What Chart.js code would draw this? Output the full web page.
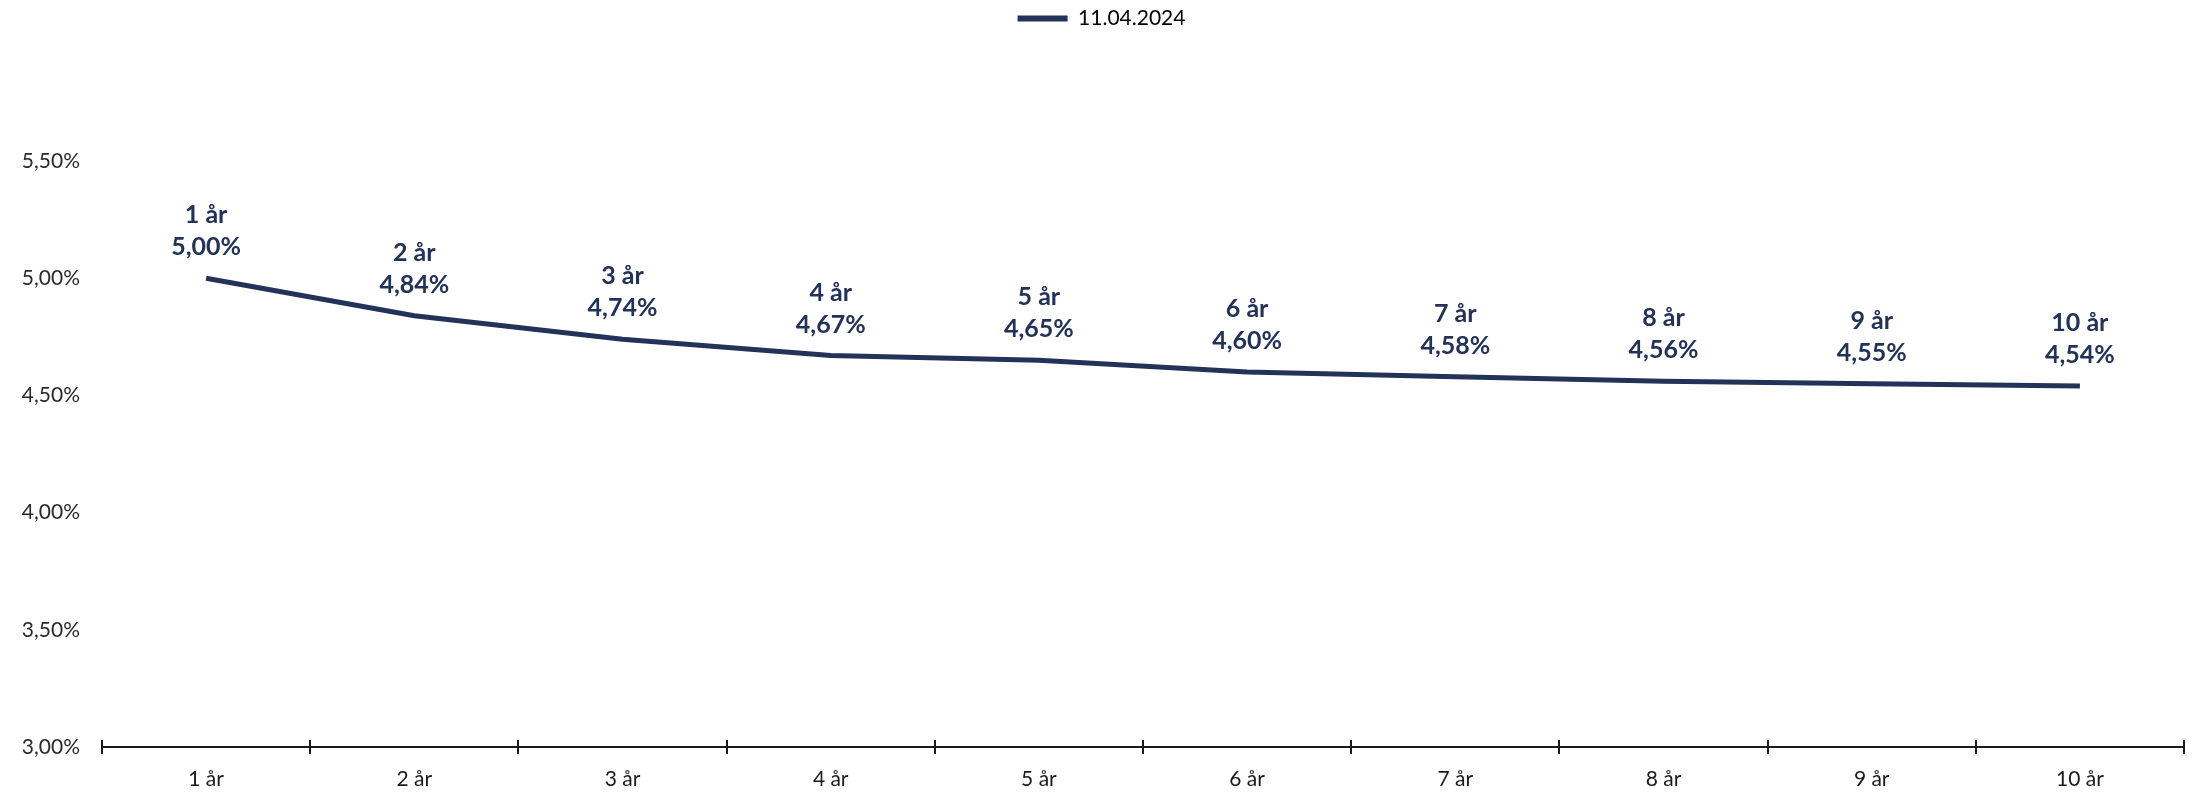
<!DOCTYPE html>
<html>
<head>
<meta charset="utf-8">
<script src="https://cdn.jsdelivr.net/npm/chart.js@4"></script>
<style>
  html, body { margin: 0; padding: 0; background: #fff; }
  #wrap { width: 2203px; height: 792px; position: relative; }
</style>
</head>
<body>
<div id="wrap"><canvas id="myChart"></canvas></div>
<script>
// data
const categories = ['1 år', '2 år', '3 år', '4 år', '5 år', '6 år', '7 år', '8 år', '9 år', '10 år'];
const seriesLabel = '11.04.2024';
const rates = [5.00, 4.84, 4.74, 4.67, 4.65, 4.60, 4.58, 4.56, 4.55, 4.54];
const yTicks = [3.0, 3.5, 4.0, 4.5, 5.0, 5.5];

const navy = '#233259';
const fontName = 'Lato';

function pct(v) {
    return v.toFixed(2).replace('.', ',') + '%';
}

// labels over each point: "1 år" / "5,00%"
const pointLabels = {
    id: 'pointLabels',
    afterDatasetsDraw(chart) {
        const ctx = chart.ctx;
        const meta = chart.getDatasetMeta(0);
        ctx.save();
        ctx.fillStyle = navy;
        ctx.textAlign = 'center';
        ctx.textBaseline = 'alphabetic';
        ctx.font = 'bold 25px ' + fontName;
        meta.data.forEach((pt, i) => {
            ctx.fillText(categories[i], pt.x, pt.y - 55);
            ctx.fillText(pct(rates[i]), pt.x, pt.y - 23);
        });
        ctx.restore();
    }
};

// tick marks crossing the x axis at category borders
const axisTicks = {
    id: 'axisTicks',
    afterDraw(chart) {
        const sc = chart.scales.x;
        const ctx = chart.ctx;
        const n = categories.length;
        const step = (sc.right - sc.left) / n;
        ctx.save();
        ctx.strokeStyle = '#1a1a1a';
        ctx.lineWidth = 2;
        for (let i = 0; i <= n; i++) {
            const x = Math.round(sc.left + i * step);
            ctx.beginPath();
            ctx.moveTo(x, sc.top - 7);
            ctx.lineTo(x, sc.top + 7);
            ctx.stroke();
        }
        ctx.restore();
    }
};

// extra room under the legend
const legendGap = {
    id: 'legendGap',
    beforeInit(chart) {
        const fit = chart.legend.fit;
        chart.legend.fit = function () {
            fit.bind(chart.legend)();
            this.height += 122;
        };
    }
};

const ctx = document.getElementById('myChart').getContext('2d');
const chart = new Chart(ctx, {
    type: 'line',
    data: {
        labels: categories,
        datasets: [{
            label: seriesLabel,
            data: rates,
            borderColor: navy,
            backgroundColor: navy,
            borderWidth: 5,
            pointRadius: 0,
            tension: 0,
            fill: false
        }]
    },
    options: {
        responsive: true,
        maintainAspectRatio: false,
        animation: false,
        layout: {
            padding: { top: 2, right: 19, left: 19, bottom: 0 }
        },
        plugins: {
            tooltip: { enabled: false },
            legend: {
                position: 'top',
                labels: {
                    color: '#1a1a1a',
                    font: { family: fontName, size: 21 },
                    boxWidth: 50,
                    boxHeight: 6,
                    padding: 6,
                    generateLabels(chart) {
                        return [{
                            text: seriesLabel,
                            fillStyle: navy,
                            strokeStyle: navy,
                            lineWidth: 0,
                            datasetIndex: 0
                        }];
                    }
                }
            }
        },
        scales: {
            x: {
                offset: true,
                afterFit(axis) {
                    axis.height = 45;
                },
                grid: { display: false, drawTicks: false },
                border: { display: true, color: '#1a1a1a', width: 2 },
                ticks: {
                    color: '#1a1a1a',
                    padding: 20,
                    font: { family: fontName, size: 21 }
                }
            },
            y: {
                min: 3.0,
                max: 5.5,
                afterBuildTicks(axis) {
                    axis.ticks = yTicks.map(v => ({ value: v }));
                },
                afterFit(axis) {
                    axis.width = 83;
                },
                grid: { display: false, drawTicks: false },
                border: { display: false },
                ticks: {
                    color: '#2a2a2a',
                    padding: 22,
                    font: { family: fontName, size: 21 },
                    callback: v => pct(v)
                }
            }
        }
    },
    plugins: [pointLabels, axisTicks, legendGap]
});
</script>
</body>
</html>
